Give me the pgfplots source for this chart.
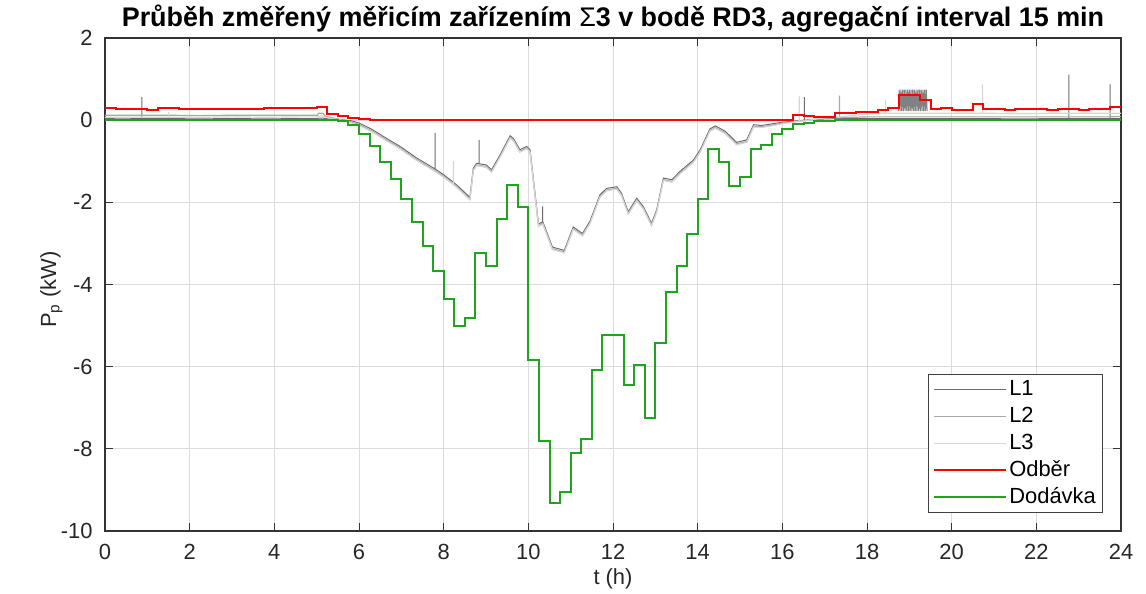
\documentclass[border=0pt]{standalone}
\usepackage{pgfplots}
\pgfplotsset{compat=1.18}
\usepackage{pgfplotstable}
\usepackage{fontspec}
\setmainfont{Liberation Sans}

\definecolor{cLa}{gray}{0.42}
\definecolor{cLb}{gray}{0.66}
\definecolor{cLc}{gray}{0.84}
\definecolor{cRed}{rgb}{1,0,0}
\definecolor{cGreen}{RGB}{30,165,30}

\pgfplotstableread{
t a b c
0 0.04 0.12 0.07
0.4 0.03 0.12 0.07
0.87 0.04 0.12 0.07
0.87 0.56 0.12 0.07
0.87 0.04 0.12 0.07
1.5 0.04 0.12 0.07
1.5 0.04 0.12 0.20
1.5 0.04 0.12 0.07
2.2 0.03 0.11 0.07
3.0 0.04 0.12 0.08
3.8 0.03 0.12 0.07
4.6 0.04 0.12 0.08
5.02 0.04 0.12 0.08
5.04 0.05 0.17 0.10
5.15 0.05 0.17 0.10
5.2 0.04 0.10 0.07
5.4 0.02 0.05 0.03
5.6 0.01 0.01 -0.01
5.8 -0.01 -0.04 -0.06
6.0 -0.07 -0.11 -0.13
6.3 -0.22 -0.26 -0.28
6.58 -0.40 -0.44 -0.46
6.97 -0.64 -0.68 -0.70
7.36 -0.92 -0.96 -0.98
7.8 -1.19 -1.23 -1.25
7.8 -0.31 -1.23 -1.25
7.8 -1.19 -1.23 -1.25
8.0 -1.33 -1.37 -1.39
8.23 -1.51 -1.55 -1.57
8.23 -1.51 -1.55 -1.00
8.23 -1.51 -1.55 -1.57
8.31 -1.58 -1.62 -1.64
8.62 -1.88 -1.92 -1.94
8.70 -1.17 -1.21 -1.23
8.78 -1.05 -1.09 -1.11
8.84 -1.06 -1.10 -1.12
8.84 -0.48 -1.10 -1.12
8.84 -1.06 -1.10 -1.12
9.01 -1.09 -1.13 -1.15
9.13 -1.21 -1.25 -1.27
9.33 -0.85 -0.89 -0.91
9.57 -0.38 -0.42 -0.44
9.65 -0.45 -0.49 -0.51
9.8 -0.72 -0.76 -0.78
9.96 -0.64 -0.68 -0.70
10.04 -0.72 -0.76 -0.78
10.24 -2.53 -2.57 -2.59
10.34 -2.47 -2.51 -2.53
10.34 -2.10 -2.51 -2.53
10.34 -2.47 -2.51 -2.53
10.57 -3.09 -3.13 -3.15
10.85 -3.17 -3.21 -3.23
11.06 -2.60 -2.64 -2.66
11.28 -2.76 -2.80 -2.82
11.46 -2.45 -2.49 -2.51
11.69 -1.82 -1.86 -1.88
11.85 -1.66 -1.70 -1.72
12.09 -1.62 -1.66 -1.68
12.2 -1.78 -1.82 -1.84
12.36 -2.23 -2.27 -2.29
12.56 -1.90 -1.94 -1.96
12.72 -2.11 -2.15 -2.17
12.91 -2.51 -2.55 -2.57
13.03 -2.19 -2.23 -2.25
13.19 -1.41 -1.45 -1.47
13.39 -1.45 -1.49 -1.51
13.58 -1.25 -1.29 -1.31
13.9 -0.97 -1.01 -1.03
14.06 -0.72 -0.76 -0.78
14.29 -0.21 -0.25 -0.27
14.42 -0.14 -0.18 -0.20
14.65 -0.27 -0.31 -0.33
14.92 -0.54 -0.58 -0.60
15.16 -0.48 -0.52 -0.54
15.32 -0.11 -0.15 -0.17
15.5 -0.13 -0.16 -0.18
15.7 -0.10 -0.13 -0.15
16.0 -0.05 -0.07 -0.09
16.4 -0.01 -0.02 -0.03
16.4 -0.01 -0.02 0.58
16.4 -0.01 -0.02 -0.03
16.52 0.00 -0.01 -0.02
16.52 0.56 -0.01 -0.02
16.52 0.00 -0.01 -0.02
17.0 0.03 0.05 0.06
17.35 0.04 0.06 0.08
17.35 0.04 0.60 0.08
17.35 0.04 0.06 0.08
18.0 0.04 0.08 0.15
18.44 0.04 0.08 0.17
18.44 0.04 0.08 0.50
18.44 0.04 0.08 0.17
19.5 0.04 0.08 0.17
20.73 0.04 0.08 0.17
20.73 0.04 0.08 0.87
20.73 0.04 0.08 0.17
21.5 0.03 0.08 0.16
22.77 0.04 0.08 0.17
22.77 1.11 0.08 0.17
22.77 0.04 0.08 0.17
23.74 0.04 0.08 0.17
23.74 0.87 0.08 0.17
23.74 0.04 0.08 0.17
24 0.04 0.09 0.17
}\phases

\pgfplotstableread{
t v
0 0.29
0.25 0.27
0.5 0.27
0.75 0.28
1.0 0.25
1.25 0.30
1.5 0.30
1.75 0.27
2.0 0.27
2.25 0.27
2.5 0.27
2.75 0.28
3.0 0.28
3.25 0.28
3.5 0.28
3.75 0.29
4.0 0.29
4.25 0.29
4.5 0.29
4.75 0.29
5.0 0.32
5.25 0.15
5.5 0.09
5.75 0.05
6.0 0.02
6.25 0.0
16.25 0.13
16.5 0.09
16.75 0.07
17.0 0.07
17.25 0.17
17.5 0.17
17.75 0.20
18.0 0.20
18.25 0.25
18.5 0.29
18.75 0.62
19.0 0.62
19.25 0.48
19.5 0.26
19.75 0.30
20.0 0.25
20.25 0.25
20.5 0.40
20.75 0.26
21.0 0.26
21.25 0.25
21.5 0.26
21.75 0.27
22.0 0.26
22.25 0.25
22.5 0.26
22.75 0.26
23.0 0.25
23.25 0.27
23.5 0.28
23.75 0.31
24.0 0.31
}\odber

\pgfplotstableread{
t v
0 0
5.5 -0.03
5.75 -0.12
6.0 -0.33
6.25 -0.64
6.5 -1.01
6.75 -1.44
7.0 -1.93
7.25 -2.49
7.5 -3.07
7.75 -3.68
8.0 -4.35
8.25 -5.00
8.5 -4.81
8.75 -3.23
9.0 -3.56
9.25 -2.40
9.5 -1.58
9.75 -2.11
10.0 -5.83
10.25 -7.80
10.5 -9.31
10.75 -9.06
11.0 -8.11
11.25 -7.76
11.5 -6.07
11.75 -5.22
12.0 -5.24
12.25 -6.44
12.5 -5.97
12.75 -7.25
13.0 -5.42
13.25 -4.19
13.5 -3.54
13.75 -2.77
14.0 -1.91
14.25 -0.71
14.5 -1.03
14.75 -1.61
15.0 -1.39
15.25 -0.71
15.5 -0.60
15.75 -0.33
16.0 -0.22
16.25 -0.10
16.5 -0.06
16.75 -0.03
17.0 -0.01
17.25 0
24 0
}\dodavka

\begin{document}
\begin{tikzpicture}
\begin{axis}[
  scale only axis, width=508bp, height=246.5bp,
  xmin=0, xmax=24, ymin=-10, ymax=2,
  xtick={0,2,...,24}, ytick={-10,-8,...,2},
  xticklabels={0,2,4,6,8,10,12,14,16,18,20,22,24},
  yticklabels={-10,-8,-6,-4,-2,0,2},
  tick align=inside, tick pos=both, major tick length=4bp,
  grid=major, major grid style={black!14, line width=0.5bp},
  axis line style={black!80, line width=0.6bp},
  tick style={black!80, line width=0.5bp},
  ticklabel style={font=\fontsize{11}{13}\selectfont, text=black!85, inner sep=0pt},
  xticklabel shift=6.5bp, yticklabel shift=6bp,
  title={Průběh změřený měřicím zařízením {\mdseries Σ}3 v bodě RD3, agregační interval 15 min},
  title style={font=\bfseries\fontsize{13.5}{15}\selectfont, at={(axis description cs:0.5,1)}, anchor=south, inner sep=0pt, yshift=-3.5bp},
  xlabel={t (h)},
  xlabel style={font=\fontsize{11}{13}\selectfont, text=black!85, at={(axis description cs:0.5,0)}, anchor=base, inner sep=0pt, yshift=-26.5bp},
  ylabel={P\textsubscript{p} (kW)},
  ylabel style={font=\fontsize{11}{13}\selectfont, text=black!85, at={(axis description cs:-0.0482,0.49)}, anchor=base, inner sep=0pt},
  legend style={at={(axis description cs:0.982,0.0365)}, anchor=south east,
    draw=black!75, line width=0.5bp, fill=white,
    font=\fontsize{11}{13}\selectfont,
    inner xsep=2bp, inner ysep=1bp, column sep=0pt,
    nodes={inner sep=1.2bp, text height=8.5bp, text depth=2.5bp}},
  legend cell align=left,
  legend image code/.code={\draw[#1] (0bp,0bp) -- (36bp,0bp);},
]
\addplot[cLa, line width=0.5bp] table[x=t, y=a] {\phases};
\addlegendentry{L1}
\addplot[cLb, line width=0.6bp] table[x=t, y=b] {\phases};
\addlegendentry{L2}
\addplot[cLc, line width=0.6bp] table[x=t, y=c] {\phases};
\addlegendentry{L3}
\addplot[cLa!85, line width=0.5bp, forget plot] coordinates {(18.74,0.22)(18.76,0.74)(18.78,0.22)(18.80,0.74)(18.82,0.22)(18.84,0.74)(18.86,0.22)(18.88,0.74)(18.90,0.22)(18.92,0.74)(18.94,0.22)(18.96,0.74)(18.98,0.22)(19.00,0.74)(19.02,0.22)(19.04,0.74)(19.06,0.22)(19.08,0.74)(19.10,0.22)(19.12,0.74)(19.14,0.22)(19.16,0.74)(19.18,0.22)(19.20,0.74)(19.22,0.22)(19.24,0.74)(19.26,0.22)(19.28,0.74)(19.30,0.22)(19.32,0.74)(19.34,0.22)(19.36,0.74)(19.38,0.22)(19.40,0.74)(19.42,0.22)};
\addplot[cRed, line width=1bp, const plot] table[x=t, y=v] {\odber};
\addlegendentry{Odběr}
\addplot[cGreen, line width=1bp, const plot] table[x=t, y=v] {\dodavka};
\addlegendentry{Dodávka}
\end{axis}
\pgfresetboundingbox
\path ([xshift=-52.5bp,yshift=-31.5bp]current axis.south west) rectangle ([xshift=12.5bp,yshift=19bp]current axis.north east);
\end{tikzpicture}
\end{document}
